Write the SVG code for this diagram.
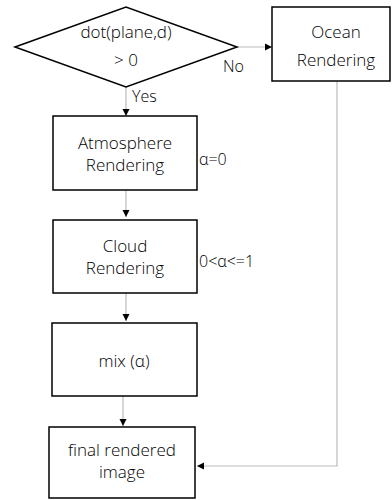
<svg xmlns="http://www.w3.org/2000/svg" width="392" height="500" viewBox="0 0 392 500">
<defs>
<marker id="ah" markerWidth="8" markerHeight="8" refX="7" refY="4" orient="auto" markerUnits="userSpaceOnUse">
<path d="M0,0.5 L7,4 L0,7.5 Z" fill="#000"/>
</marker>
<style>
.box{fill:#fff;stroke:#000;stroke-width:1.5}
.t{font-family:"Open Sans","Noto Sans",sans-serif;font-weight:300;font-size:17px;fill:#000;text-anchor:middle}
.l{font-family:"Open Sans","Noto Sans",sans-serif;font-weight:300;font-size:16px;fill:#000}
.c{fill:none;stroke:#bbb;stroke-width:1.2}
</style>
</defs>
<rect width="392" height="500" fill="#fff"/>
<g id="connectors">
<line class="c" x1="237" y1="47" x2="272" y2="47" marker-end="url(#ah)"/>
<line class="c" x1="126" y1="87" x2="126" y2="116" marker-end="url(#ah)"/>
<line class="c" x1="126" y1="190" x2="126" y2="217" marker-end="url(#ah)"/>
<line class="c" x1="126" y1="293" x2="126" y2="321" marker-end="url(#ah)"/>
<line class="c" x1="123" y1="396" x2="123" y2="426" marker-end="url(#ah)"/>
<polyline class="c" points="337,81 337,466 197,466" marker-end="url(#ah)"/>
<text class="l" x="223" y="72">No</text>
<text class="l" x="132" y="102">Yes</text>
<text class="l" x="199" y="165">α=0</text>
<text class="l" x="199" y="267">0&lt;α&lt;=1</text>
</g>
<g id="decision">
<polygon class="box" points="15,47 126,7 237,47 126,87"/>
<text class="t" x="126" y="38">dot(plane,d)</text>
<text class="t" x="126" y="66">&gt; 0</text>
</g>
<g id="ocean">
<rect class="box" x="272" y="7" width="118" height="74"/>
<text class="t" x="336" y="38">Ocean</text>
<text class="t" x="336" y="66">Rendering</text>
</g>
<g id="atmosphere">
<rect class="box" x="53" y="116" width="144" height="74"/>
<text class="t" x="125" y="149">Atmosphere</text>
<text class="t" x="125" y="171">Rendering</text>
</g>
<g id="cloud">
<rect class="box" x="53" y="220" width="144" height="73"/>
<text class="t" x="125" y="252">Cloud</text>
<text class="t" x="125" y="274">Rendering</text>
</g>
<g id="mix">
<rect class="box" x="52" y="323" width="145" height="73"/>
<text class="t" x="124" y="367">mix (α)</text>
</g>
<g id="final">
<rect class="box" x="49" y="427" width="146" height="71"/>
<text class="t" x="122" y="456">final rendered</text>
<text class="t" x="122" y="478">image</text>
</g>
</svg>
